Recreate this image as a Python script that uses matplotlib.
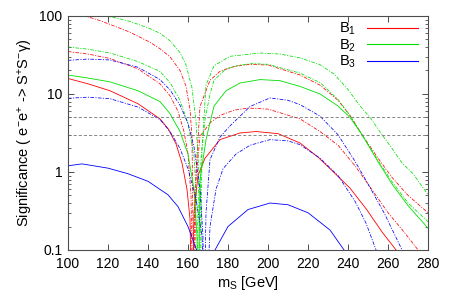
import matplotlib
matplotlib.use("Agg")
import matplotlib.pyplot as plt
from matplotlib.lines import Line2D

plt.rcParams['font.family'] = ['Liberation Sans', 'DejaVu Sans']
plt.rcParams['mathtext.fontset'] = 'custom'
plt.rcParams['mathtext.rm'] = 'Liberation Sans'
plt.rcParams['mathtext.it'] = 'Liberation Sans:italic'
plt.rcParams['lines.scale_dashes'] = False

# ---------------- data ----------------
x_ticks = [100, 120, 140, 160, 180, 200, 220, 240, 260, 280]
y_ticks = [0.1, 1, 10, 100]
y_ticklabels = ["0.1", "1", "10", "100"]
thresholds = [3, 5]

legend_labels = ["B$_1$", "B$_2$", "B$_3$"]
colors = ["#ff0000", "#00e000", "#0000ff"]

# B1 (red)
m_r_solid = [100, 110, 121, 135, 146, 150, 154, 157, 159.5, 161, 162, 163, 165, 168.5, 176, 186, 194,
             205, 216, 225, 232.7, 241, 249.3, 257, 264, 268]
s_r_solid = [15.8, 13.5, 11.0, 7.5, 4.8, 3.6, 2.3, 1.3, 0.6, 0.25, 0.01, 0.3, 0.9, 1.5, 2.6, 3.16, 3.3,
             3.1, 2.35, 1.55, 1.0, 0.62, 0.33, 0.17, 0.1, 0.07]
m_r_dash1 = [100, 110, 121, 135, 146, 151, 155, 158, 160, 161.5, 162.5, 163.5, 166, 171, 176, 183,
             190, 200, 216, 226, 235, 243.5, 250, 260, 268, 275, 280]
s_r_dash1 = [35, 32.5, 28.5, 21, 13.5, 9.5, 6, 3.3, 1.7, 0.5, 0.01, 0.6, 2.86, 4.25, 5.3, 6.2,
             6.6, 6.4, 4.8, 3.3, 2.2, 1.2, 0.7, 0.3, 0.17, 0.1, 0.08]
m_r_dash2 = [104, 108.5, 115, 121, 131, 141, 146, 151, 156, 159, 161, 162, 163, 164, 166, 171, 176,
             183, 191, 200, 216, 226, 235, 241, 247, 255, 262, 270, 280]
s_r_dash2 = [112, 100, 89, 78, 62, 46, 38, 30, 20, 12.6, 6.3, 2.8, 0.01, 1.0, 6.9, 15, 19.5,
             22.5, 24, 23.5, 17.5, 13, 8.3, 5.3, 3.0, 1.5, 0.85, 0.5, 0.3]

# B2 (green)
m_g_solid = [100, 110, 121, 135, 146, 151, 156, 160, 163, 164.5, 165, 166, 169, 173, 179, 186, 196,
             206, 216, 226, 235, 241, 247, 255, 262, 270, 280]
s_g_solid = [17.5, 16, 14.3, 11, 8, 5.6, 3.3, 1.7, 0.6, 0.15, 0.01, 0.8, 2.6, 7.0, 11.0, 13.8, 15.3,
             14.8, 12.5, 10.0, 7.0, 5.0, 3.0, 1.35, 0.7, 0.37, 0.19]
m_g_dash1 = [100, 110, 121, 135, 146, 151, 156, 160, 163, 164.5, 165.5, 166.5, 168.5, 171, 173, 179,
             186, 192, 200, 216, 226, 235, 241, 247, 255, 262, 270, 280]
s_g_dash1 = [40, 37.5, 33.6, 26, 19.5, 14, 8.3, 4.2, 1.6, 0.35, 0.01, 1.5, 4.7, 10, 15, 21,
             23.5, 24.5, 24, 18.5, 14, 8.5, 5.3, 3.0, 1.4, 0.75, 0.4, 0.23]
m_g_dash2 = [115, 119, 125, 131, 141, 146, 151, 156, 159, 162, 164, 165.2, 166, 167, 169, 173, 181,
             196, 206, 216, 226, 233, 240, 246, 251, 257, 262, 267, 272.5, 280]
s_g_dash2 = [106, 100, 93, 85, 69, 60, 48, 34, 23.5, 12, 4.5, 1.26, 0.01, 2, 13, 23, 30.4,
             33.5, 32.5, 29, 23.7, 18, 11.4, 7, 5, 3, 2.0, 1.3, 0.95, 0.51]

# B3 (blue)
m_b_solid_l = [100, 107, 120, 130, 140, 150, 155, 160, 164.3, 166]
s_b_solid_l = [1.2, 1.27, 1.12, 0.95, 0.76, 0.51, 0.36, 0.2, 0.1, 0.05]
m_b_solid_r = [171, 173.5, 180, 190, 201, 210, 220, 231, 238, 241]
s_b_solid_r = [0.05, 0.1, 0.2, 0.33, 0.4, 0.38, 0.3, 0.18, 0.1, 0.07]
m_b_dash1 = [100, 110, 121, 135, 146, 151, 156, 160, 164, 167, 169, 171, 174, 177.5, 184, 191,
             201, 210, 216, 226, 235, 243.5, 249, 254, 257]
s_b_dash1 = [8.8, 9.1, 8.7, 6.8, 4.7, 3.3, 2.0, 1.1, 0.45, 0.15, 0.01, 0.2, 0.6, 1.1, 1.7, 2.2,
             2.6, 2.5, 2.24, 1.5, 0.9, 0.42, 0.22, 0.1, 0.07]
m_b_dash2 = [100, 110, 121, 135, 146, 151, 156, 160, 163, 166, 167.5, 168, 169, 171, 176, 181,
             191, 201, 210, 216, 226, 235, 243.5, 250, 258, 267, 270]
s_b_dash2 = [27, 28, 27.3, 22, 15.3, 11.3, 7.2, 4.2, 2.1, 0.6, 0.15, 0.01, 0.3, 1.44, 2.8, 3.9,
             6.9, 8.9, 8.3, 7.3, 5.2, 3.0, 1.37, 0.7, 0.3, 0.1, 0.07]

# ---------------- figure ----------------
fig = plt.figure(figsize=(4.53, 3.07), dpi=100)
ax = fig.add_axes([0.150, 0.1857, 0.795, 0.7623])

dash = (2.6, 1.0, 0.8, 1.0)
lw_s = 0.6
lw_d = 0.55

ax.plot(m_r_solid, s_r_solid, color=colors[0], lw=lw_s)
ax.plot(m_r_dash1, s_r_dash1, color=colors[0], lw=lw_d, dashes=dash)
ax.plot(m_r_dash2, s_r_dash2, color=colors[0], lw=lw_d, dashes=dash)

ax.plot(m_g_solid, s_g_solid, color=colors[1], lw=lw_s)
ax.plot(m_g_dash1, s_g_dash1, color=colors[1], lw=lw_d, dashes=dash)
ax.plot(m_g_dash2, s_g_dash2, color=colors[1], lw=lw_d, dashes=dash)

ax.plot(m_b_solid_l, s_b_solid_l, color=colors[2], lw=lw_s)
ax.plot(m_b_solid_r, s_b_solid_r, color=colors[2], lw=lw_s)
ax.plot(m_b_dash1, s_b_dash1, color=colors[2], lw=lw_d, dashes=dash)
ax.plot(m_b_dash2, s_b_dash2, color=colors[2], lw=lw_d, dashes=dash)

for t in thresholds:
    ax.axhline(t, color="0.45", lw=0.6, dashes=(2.2, 1.5))

ax.set_yscale("log")
ax.set_xlim(100, 280)
ax.set_ylim(0.1, 100)
ax.set_xticks(x_ticks)
ax.set_yticks(y_ticks)
ax.set_yticklabels(y_ticklabels)
ax.tick_params(which="both", direction="in", top=True, right=True, labelsize=10, color="0.3")
ax.tick_params(which="major", length=4, width=0.7)
ax.tick_params(which="minor", length=2.2, width=0.6)
ax.tick_params(axis="x", pad=5)
ax.tick_params(axis="y", pad=4)
for sp in ax.spines.values():
    sp.set_linewidth(0.8)
    sp.set_color("0.3")

ax.set_xlabel(r"m$_{\mathrm{S}}$ [GeV]", fontsize=10.5, labelpad=2)
ax.set_ylabel("Significance ( e$^{-}$e$^{+}$ -> S$^{+}$S$^{-}$γ)", fontsize=10.5, labelpad=3)

handles = [Line2D([], [], color=c, lw=0.8) for c in colors]
ax.legend(handles, legend_labels, loc="upper right", markerfirst=False, frameon=False,
          fontsize=10.5, handlelength=3.5, handletextpad=0.7, labelspacing=0.0,
          borderaxespad=0.0, borderpad=0.35, bbox_to_anchor=(0.985, 1.0))

fig.savefig("out.png", dpi=100)
